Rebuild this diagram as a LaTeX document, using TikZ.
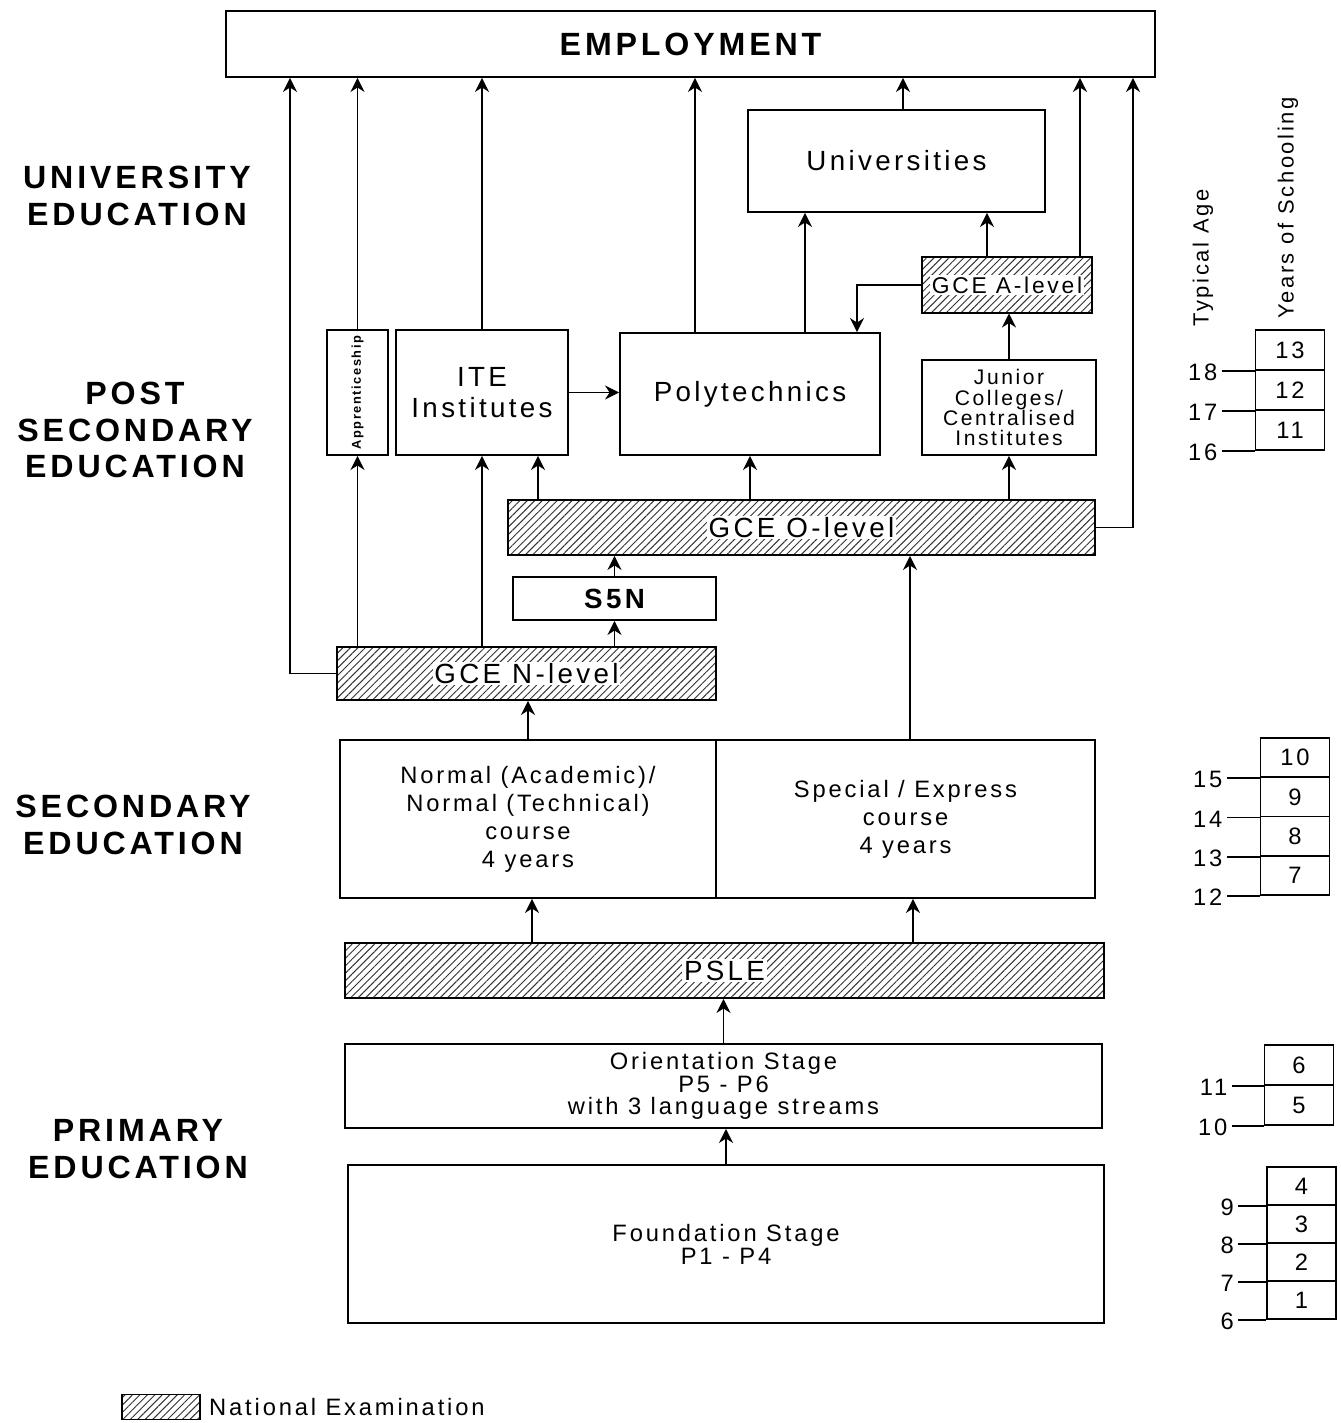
\documentclass[tikz,border=0pt]{standalone}
\usepackage{fontspec}
\setmainfont{Liberation Sans}[LetterSpace=12]
\usetikzlibrary{arrows.meta, patterns.meta, positioning}

\newcommand{\fbig}{\fontsize{18.3}{20.7}\selectfont\bfseries}
\newcommand{\fmid}{\fontsize{15.8}{18.1}\selectfont}
\newcommand{\fsmall}{\fontsize{13.5}{15.9}\selectfont}
\newcommand{\ftight}{\fontsize{13.5}{13}\selectfont}
\newcommand{\fjc}{\fontsize{12}{11.4}\selectfont}
\newcommand{\fhead}{\fontsize{12.5}{14}\selectfont}
\newcommand{\exlabel}[1]{{\setlength{\fboxsep}{1pt}\colorbox{white}{#1}}}

\tikzset{
  box/.style={draw, line width=1.1pt, inner sep=0pt, align=center, font=\fmid},
  exam/.style={box, pattern={Lines[angle=45,distance=3pt,line width=0.55pt]}, pattern color=black!80},
  arr/.style={-{Stealth[length=2.8mm,width=2.8mm,inset=0.9mm]}, line width=1.1pt},
  stagelbl/.style={font=\fbig, align=center},
  yearcell/.style={draw, line width=1pt, minimum width=1.38cm, minimum height=0.8cm, inner sep=0pt, font=\fsmall},
  agelbl/.style={font=\fsmall, anchor=east, inner sep=2pt, yshift=-1pt},
  tick/.style={line width=1pt}
}

\begin{document}
\begin{tikzpicture}[x=0.02cm, y=-0.02cm]
  \useasboundingbox (0,0) rectangle (1340,1423);

  % boxes, top to bottom
  \node[box, font=\fbig, minimum width=18.58cm, minimum height=1.32cm] (emp) at (690.5,44) {EMPLOYMENT};
  \node[box, minimum width=5.94cm, minimum height=2.04cm] (univ) at (896.5,161) {Universities};
  \node[exam, font=\fontsize{13}{15}\selectfont, minimum width=3.4cm, minimum height=1.12cm] (alevel) at (1007,285) {\exlabel{GCE A-level}};
  \node[box, font=\fjc, minimum width=3.48cm, minimum height=1.9cm] (jc) at (1009,407.5) {Junior\\Colleges/\\Centralised\\Institutes};
  \node[box, minimum width=5.2cm, minimum height=2.44cm] (poly) at (750,394) {Polytechnics};
  \node[box, minimum width=3.44cm, minimum height=2.5cm] (ite) at (482,392.5) {ITE\\Institutes};
  \node[box, minimum width=1.22cm, minimum height=2.5cm] (appr) at (357.5,392.5) {\rotatebox{90}{\fontsize{7.3}{8}\selectfont\bfseries Apprenticeship}};
  \node[exam, minimum width=11.74cm, minimum height=1.1cm] (olevel) at (801.5,527.5) {\exlabel{GCE O-level}};
  \node[box, font=\fmid\bfseries, minimum width=4.06cm, minimum height=0.86cm] (s5n) at (614.5,598.5) {S5N};
  \node[exam, minimum width=7.58cm, minimum height=1.06cm] (nlevel) at (526.5,673.5) {\exlabel{GCE N-level}};
  \node[box, font=\fsmall, minimum width=7.52cm, minimum height=3.16cm] (normal) at (528,819) {Normal (Academic)/\\Normal (Technical)\\course\\4 years};
  \node[box, font=\fsmall, minimum width=7.58cm, minimum height=3.16cm] (express) at (905.5,819) {Special / Express\\course\\4 years};
  \node[exam, minimum width=15.18cm, minimum height=1.1cm] (psle) at (724.5,970.5) {\exlabel{PSLE}};
  \node[box, font=\ftight, minimum width=15.14cm, minimum height=1.68cm] (orient) at (723.5,1086) {Orientation Stage\\P5 - P6\\with 3 language streams};
  \node[box, font=\ftight, minimum width=15.12cm, minimum height=3.16cm] (found) at (726,1244) {Foundation Stage\\P1 - P4};

  % stage labels
  \node[stagelbl] (univlbl) at (137,196) {UNIVERSITY\\EDUCATION};
  \node[stagelbl] (postlbl) at (135,430) {POST\\SECONDARY\\EDUCATION};
  \node[stagelbl] (seclbl) at (133,825) {SECONDARY\\EDUCATION};
  \node[stagelbl] (primlbl) at (138,1149) {PRIMARY\\EDUCATION};

  % into employment
  \draw[arr] (nlevel.west) -| (emp.south -| 290,0);
  \draw[arr] (appr.north) -- (emp.south -| appr.north);
  \draw[arr] (ite.north) -- (emp.south -| ite.north);
  \draw[arr] (poly.north -| 695,0) -- (emp.south -| 695,0);
  \draw[arr] (univ.north -| 903,0) -- (emp.south -| 903,0);
  \draw[arr] (alevel.north -| 1080,0) -- (emp.south -| 1080,0);
  \draw[arr] (olevel.east) -| (emp.south -| 1133,0);

  % post secondary
  \draw[arr] (poly.north -| 805,0) -- (univ.south -| 805,0);
  \draw[arr] (alevel.north -| 987,0) -- (univ.south -| 987,0);
  \draw[arr] (alevel.west) -| (poly.north -| 857,0);
  \draw[arr] (jc.north) -- (alevel.south -| jc.north);
  \draw[arr] (ite.east) -- (poly.west |- ite.east);
  \draw[arr] (olevel.north -| 538,0) -- (ite.south -| 538,0);
  \draw[arr] (olevel.north -| poly.south) -- (poly.south);
  \draw[arr] (olevel.north -| jc.south) -- (jc.south);
  \draw[arr] (s5n.north) -- (olevel.south -| s5n.north);
  \draw[arr] (nlevel.north -| s5n.south) -- (s5n.south);
  \draw[arr] (nlevel.north -| appr.south) -- (appr.south);
  \draw[arr] (nlevel.north -| ite.south) -- (ite.south);

  % secondary and primary
  \draw[arr] (normal.north) -- (nlevel.south -| normal.north);
  \draw[arr] (express.north -| 910,0) -- (olevel.south -| 910,0);
  \draw[arr] (psle.north -| 532,0) -- (normal.south -| 532,0);
  \draw[arr] (psle.north -| 913,0) -- (express.south -| 913,0);
  \draw[arr] (orient.north) -- (psle.south -| orient.north);
  \draw[arr] (found.north) -- (orient.south -| found.north);

  % age / years scales
  \node[font=\fhead, rotate=90] (agehead) at (1203,258) {Typical Age};
  \node[font=\fhead, rotate=90] (yearhead) at (1288,208) {Years of Schooling};
  \foreach \yr/\age [count=\i] in {13/18,12/17,11/16} {
    \node[yearcell] (yr\yr) at (1290,310+40*\i) {\yr};
    \draw[tick] (yr\yr.south west) -- ++(-33,0) node[agelbl] {\age};
  }
  \foreach \yr/\age [count=\i] in {10/15,9/14,8/13,7/12} {
    \node[yearcell, minimum height=0.785cm] (yr\yr) at (1295,718.4+39.25*\i) {\yr};
    \draw[tick] (yr\yr.south west) -- ++(-33,0) node[agelbl] {\age};
  }
  \foreach \yr/\age [count=\i] in {6/11,5/10} {
    \node[yearcell] (yr\yr) at (1299,1025+40*\i) {\yr};
    \draw[tick] (yr\yr.south west) -- ++(-32,0) node[agelbl] {\age};
  }
  \foreach \yr/\age [count=\i] in {4/9,3/8,2/7,1/6} {
    \node[yearcell, minimum height=0.76cm] (yr\yr) at (1301.5,1148+38*\i) {\yr};
    \draw[tick] (yr\yr.south west) -- ++(-28,0) node[agelbl] {\age};
  }

  % legend
  \node[exam, line width=0.6pt, minimum width=1.56cm, minimum height=0.5cm] (legbox) at (161,1407) {};
  \node[font=\fsmall, anchor=west, right=0.05cm of legbox] (legtext) {National Examination};
\end{tikzpicture}
\end{document}
